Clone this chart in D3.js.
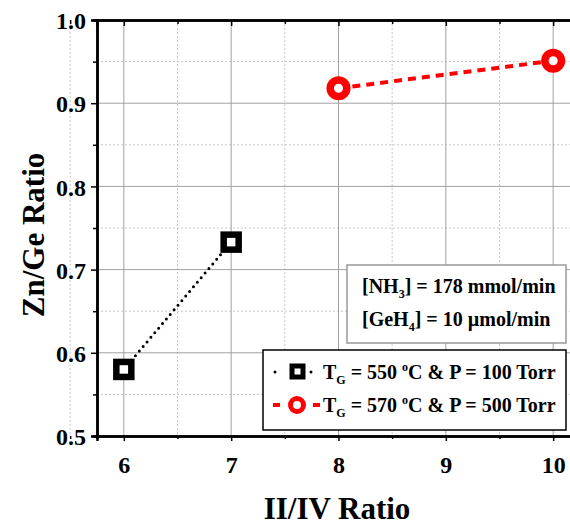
<!DOCTYPE html>
<html>
<head>
<meta charset="utf-8">
<script src="https://cdn.jsdelivr.net/npm/d3@7"></script>
<style>
  body { margin: 0; background: #fff; }
  svg { display: block; }
</style>
</head>
<body>
<div id="chart"></div>
<script>
// data
const ratioA = [6, 7];
const znGeA = [0.58, 0.733];
const ratioB = [8, 10];
const znGeB = [0.918, 0.951];
const xTicks = [6, 7, 8, 9, 10];
const yTicks = [0.5, 0.6, 0.7, 0.8, 0.9, 1.0];
const labelA = ['550', '100'];
const labelB = ['570', '500'];

const W = 570, H = 525;
const margin = { top: 20, right: -10, bottom: 89, left: 97 };
const width = W - margin.left - margin.right;
const height = H - margin.top - margin.bottom;
const font = '"Liberation Serif", "Times New Roman", serif';

const svg = d3.select('#chart').append('svg')
    .attr('width', W)
    .attr('height', H)
    .style('font-family', font);

const g = svg.append('g')
    .attr('transform', `translate(${margin.left},${margin.top})`);

const x = d3.scaleLinear().domain([5.75, 10.25]).range([0, width]);
const y = d3.scaleLinear().domain([0.5, 1.0]).range([height, 0]);

// minor grid (dotted)
const xMinor = d3.range(5.5, 10.6, 0.5).filter(v => v % 1 !== 0);
const yMinor = d3.range(0.55, 1.0, 0.1);
g.append('g').selectAll('line').data(xMinor).join('line')
    .attr('x1', d => x(d)).attr('x2', d => x(d))
    .attr('y1', 0).attr('y2', height)
    .attr('stroke', '#c8c8c8').attr('stroke-dasharray', '2,2');
g.append('g').selectAll('line').data(yMinor).join('line')
    .attr('x1', 0).attr('x2', width)
    .attr('y1', d => y(d)).attr('y2', d => y(d))
    .attr('stroke', '#c8c8c8').attr('stroke-dasharray', '2,2');

// major grid
g.append('g').selectAll('line').data(xTicks).join('line')
    .attr('x1', d => x(d)).attr('x2', d => x(d))
    .attr('y1', 0).attr('y2', height)
    .attr('stroke', '#a0a0a0');
g.append('g').selectAll('line').data(yTicks.slice(1, -1)).join('line')
    .attr('x1', 0).attr('x2', width)
    .attr('y1', d => y(d)).attr('y2', d => y(d))
    .attr('stroke', '#a0a0a0');

// axes
const xAxis = g.append('g')
    .attr('transform', `translate(0,${height})`)
    .call(d3.axisBottom(x).tickValues(xTicks).tickFormat(d3.format('d')).tickSize(5).tickPadding(10));
const xAxisMinor = g.append('g')
    .attr('transform', `translate(0,${height})`)
    .call(d3.axisBottom(x).tickValues(xMinor).tickFormat('').tickSize(3));
const xTop = g.append('g')
    .call(d3.axisTop(x).tickValues(xTicks).tickFormat('').tickSize(-6));
const xTopMinor = g.append('g')
    .call(d3.axisTop(x).tickValues(xMinor).tickFormat('').tickSize(-4));
const yAxis = g.append('g')
    .call(d3.axisLeft(y).tickValues(yTicks).tickFormat(d3.format('.1f')).tickSize(6).tickPadding(5));
const yAxisMinor = g.append('g')
    .call(d3.axisLeft(y).tickValues(yMinor).tickFormat('').tickSize(4));

[xAxis, xAxisMinor, xTop, xTopMinor, yAxis, yAxisMinor].forEach(a => {
  a.select('.domain').attr('stroke', '#000').attr('stroke-width', 2.5);
  a.selectAll('.tick line').attr('stroke', '#000').attr('stroke-width', 1.5);
  a.selectAll('text')
      .attr('font-family', font)
      .attr('font-weight', 'bold')
      .attr('font-size', 24)
      .attr('fill', '#000');
});
xAxis.selectAll('text').attr('dy', '0.9em');
yAxis.selectAll('text').attr('dy', '0.36em');

// axis titles
svg.append('text')
    .attr('x', 337).attr('y', 519)
    .attr('text-anchor', 'middle')
    .attr('font-weight', 'bold').attr('font-size', 31)
    .text('II/IV Ratio');
svg.append('text')
    .attr('transform', 'translate(44,235) rotate(-90)')
    .attr('text-anchor', 'middle')
    .attr('font-weight', 'bold').attr('font-size', 31)
    .text('Zn/Ge Ratio');

// series lines
const ptsA = ratioA.map((r, i) => [r, znGeA[i]]);
const ptsB = ratioB.map((r, i) => [r, znGeB[i]]);
const line = d3.line().x(d => x(d[0])).y(d => y(d[1]));

g.append('path').datum(ptsA)
    .attr('d', line)
    .attr('fill', 'none').attr('stroke', '#000')
    .attr('stroke-width', 3).attr('stroke-linecap', 'round')
    .attr('stroke-dasharray', '0,6');
g.append('path').datum(ptsB)
    .attr('d', line)
    .attr('fill', 'none').attr('stroke', '#ff0000')
    .attr('stroke-width', 4)
    .attr('stroke-dasharray', '8,6');

// markers
function square(sel, cx, cy) {
  sel.append('rect')
      .attr('x', cx - 7.5).attr('y', cy - 7.5)
      .attr('width', 15).attr('height', 15)
      .attr('fill', '#fff').attr('stroke', '#000').attr('stroke-width', 6.5);
}
function ring(sel, cx, cy) {
  sel.append('circle')
      .attr('cx', cx).attr('cy', cy).attr('r', 8.3)
      .attr('fill', '#fff').attr('stroke', '#ff0000').attr('stroke-width', 7.5);
}
ptsA.forEach(d => square(g, x(d[0]), y(d[1])));
ptsB.forEach(d => ring(g, x(d[0]), y(d[1])));

// flow-rate note
const note = svg.append('g');
note.append('rect')
    .attr('x', 347).attr('y', 265).attr('width', 219).attr('height', 78)
    .attr('fill', '#fff').attr('stroke', '#999').attr('stroke-width', 1.5);
const n1 = note.append('text').attr('x', 362).attr('y', 293)
    .attr('font-weight', 'bold').attr('font-size', 20);
n1.append('tspan').text('[NH');
n1.append('tspan').attr('font-size', 12).attr('dy', 5).text('3');
n1.append('tspan').attr('dy', -5).text('] = 178 mmol/min');
const n2 = note.append('text').attr('x', 362).attr('y', 326)
    .attr('font-weight', 'bold').attr('font-size', 20);
n2.append('tspan').text('[GeH');
n2.append('tspan').attr('font-size', 12).attr('dy', 5).text('4');
n2.append('tspan').attr('dy', -5).text('] = 10 \u00b5mol/min');

// legend
const leg = svg.append('g');
leg.append('rect')
    .attr('x', 263).attr('y', 350).attr('width', 303).attr('height', 80)
    .attr('fill', '#fff').attr('stroke', '#000').attr('stroke-width', 1.5);

leg.append('circle').attr('cx', 275).attr('cy', 372).attr('r', 1.5).attr('fill', '#000');
leg.append('circle').attr('cx', 311).attr('cy', 372).attr('r', 1.5).attr('fill', '#000');
leg.append('rect').attr('x', 292).attr('y', 366).attr('width', 11).attr('height', 11)
    .attr('fill', '#fff').attr('stroke', '#000').attr('stroke-width', 5);

leg.append('line').attr('x1', 273).attr('x2', 320).attr('y1', 405).attr('y2', 405)
    .attr('stroke', '#ff0000').attr('stroke-width', 4).attr('stroke-dasharray', '7,33');
leg.append('line').attr('x1', 313).attr('x2', 320).attr('y1', 405).attr('y2', 405)
    .attr('stroke', '#ff0000').attr('stroke-width', 4);
leg.append('circle').attr('cx', 297).attr('cy', 405).attr('r', 6.5)
    .attr('fill', '#fff').attr('stroke', '#ff0000').attr('stroke-width', 5);

function legendText(yy, vals) {
  const t = leg.append('text').attr('x', 323).attr('y', yy)
      .attr('font-weight', 'bold').attr('font-size', 20);
  t.append('tspan').text('T');
  t.append('tspan').attr('font-size', 12).attr('dy', 5).text('G');
  t.append('tspan').attr('dy', -5).text(' = ' + vals[0] + ' ');
  t.append('tspan').attr('font-size', 12).attr('dy', -8).text('o');
  t.append('tspan').attr('dy', 8).text('C & P = ' + vals[1] + ' Torr');
}
legendText(379, labelA);
legendText(412, labelB);
</script>
</body>
</html>
